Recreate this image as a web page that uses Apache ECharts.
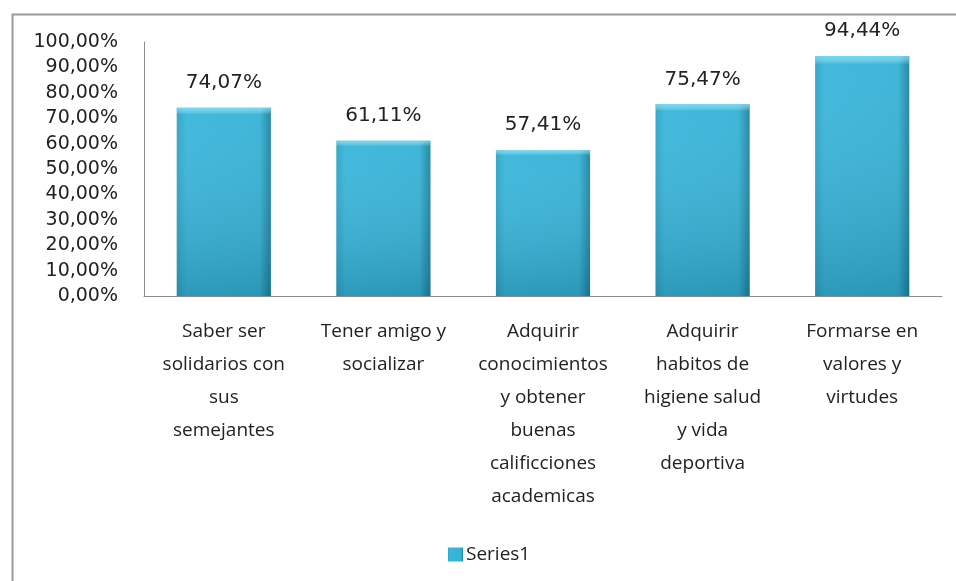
<!DOCTYPE html>
<html>
<head>
<meta charset="utf-8">
<script src="https://cdn.jsdelivr.net/npm/echarts@6/dist/echarts.min.js"></script>
<style>
  html, body { margin: 0; padding: 0; background: #fff; }
  #main { width: 956px; height: 581px; }
</style>
</head>
<body>
<div id="main"></div>
<script>
var categories = [
  "Saber ser\nsolidarios con\nsus\nsemejantes",
  "Tener amigo y\nsocializar",
  "Adquirir\nconocimientos\ny obtener\nbuenas\ncalificciones\nacademicas",
  "Adquirir\nhabitos de\nhigiene salud\ny vida\ndeportiva",
  "Formarse en\nvalores y\nvirtudes"
];
var values = [74.07, 61.11, 57.41, 75.47, 94.44];
var seriesName = "Series1";

var chartDom = document.getElementById("main");
var myChart = echarts.init(chartDom);
var option;

function pct(v) {
  return v.toFixed(2).replace(".", ",") + "%";
}

var barColor = new echarts.graphic.LinearGradient(0, 0, 1, 0, [
  { offset: 0, color: "#2ea3c5" },
  { offset: 0.1, color: "#38b6db" },
  { offset: 0.88, color: "#35b2d6" },
  { offset: 1, color: "#1d82a0" }
]);

option = {
  backgroundColor: "#fff",
  animation: false,
  textStyle: { fontFamily: "DejaVu Sans", color: "#222" },
  graphic: [
    {
      type: "rect",
      left: 10,
      top: 12,
      shape: { width: 970, height: 600 },
      style: { fill: "none", stroke: "#9a9a9a", lineWidth: 2 },
      silent: true
    }
  ],
  grid: { left: 144, right: 14, top: 42, bottom: 285 },
  legend: {
    data: [seriesName],
    left: 443,
    top: 540,
    itemWidth: 15,
    itemHeight: 14,
    itemGap: 4,
    icon: "rect",
    textStyle: { fontFamily: "Open Sans", fontSize: 19, color: "#222", padding: [0, 0, 0, -2] }
  },
  xAxis: {
    type: "category",
    data: categories,
    axisLine: { lineStyle: { color: "#8c8c8c", width: 1 } },
    axisTick: { show: false },
    axisLabel: {
      interval: 0,
      margin: 19,
      fontFamily: "Open Sans",
      fontSize: 19,
      lineHeight: 33,
      color: "#222",
      align: "center"
    }
  },
  yAxis: {
    type: "value",
    min: 0,
    max: 100,
    interval: 10,
    splitLine: { show: false },
    axisTick: { show: false },
    axisLine: { show: true, lineStyle: { color: "#8c8c8c", width: 1 } },
    axisLabel: {
      margin: 26,
      fontSize: 19,
      color: "#222",
      formatter: function (v) { return pct(v); }
    }
  },
  series: [
    {
      name: seriesName,
      type: "bar",
      data: values,
      barWidth: "59%",
      itemStyle: { color: barColor },
      label: {
        show: true,
        position: "top",
        distance: 15,
        fontSize: 20,
        color: "#222",
        formatter: function (p) { return pct(p.value); }
      }
    },
    {
      name: "shade",
      type: "bar",
      data: values,
      barWidth: "59%",
      barGap: "-100%",
      silent: true,
      itemStyle: {
        color: new echarts.graphic.LinearGradient(0, 0, 0, 1, [
          { offset: 0, color: "rgba(130,235,252,0.7)" },
          { offset: 0.035, color: "rgba(255,255,255,0.05)" },
          { offset: 1, color: "rgba(0,40,60,0.2)" }
        ])
      }
    }
  ]
};

option && myChart.setOption(option);
</script>
</body>
</html>
